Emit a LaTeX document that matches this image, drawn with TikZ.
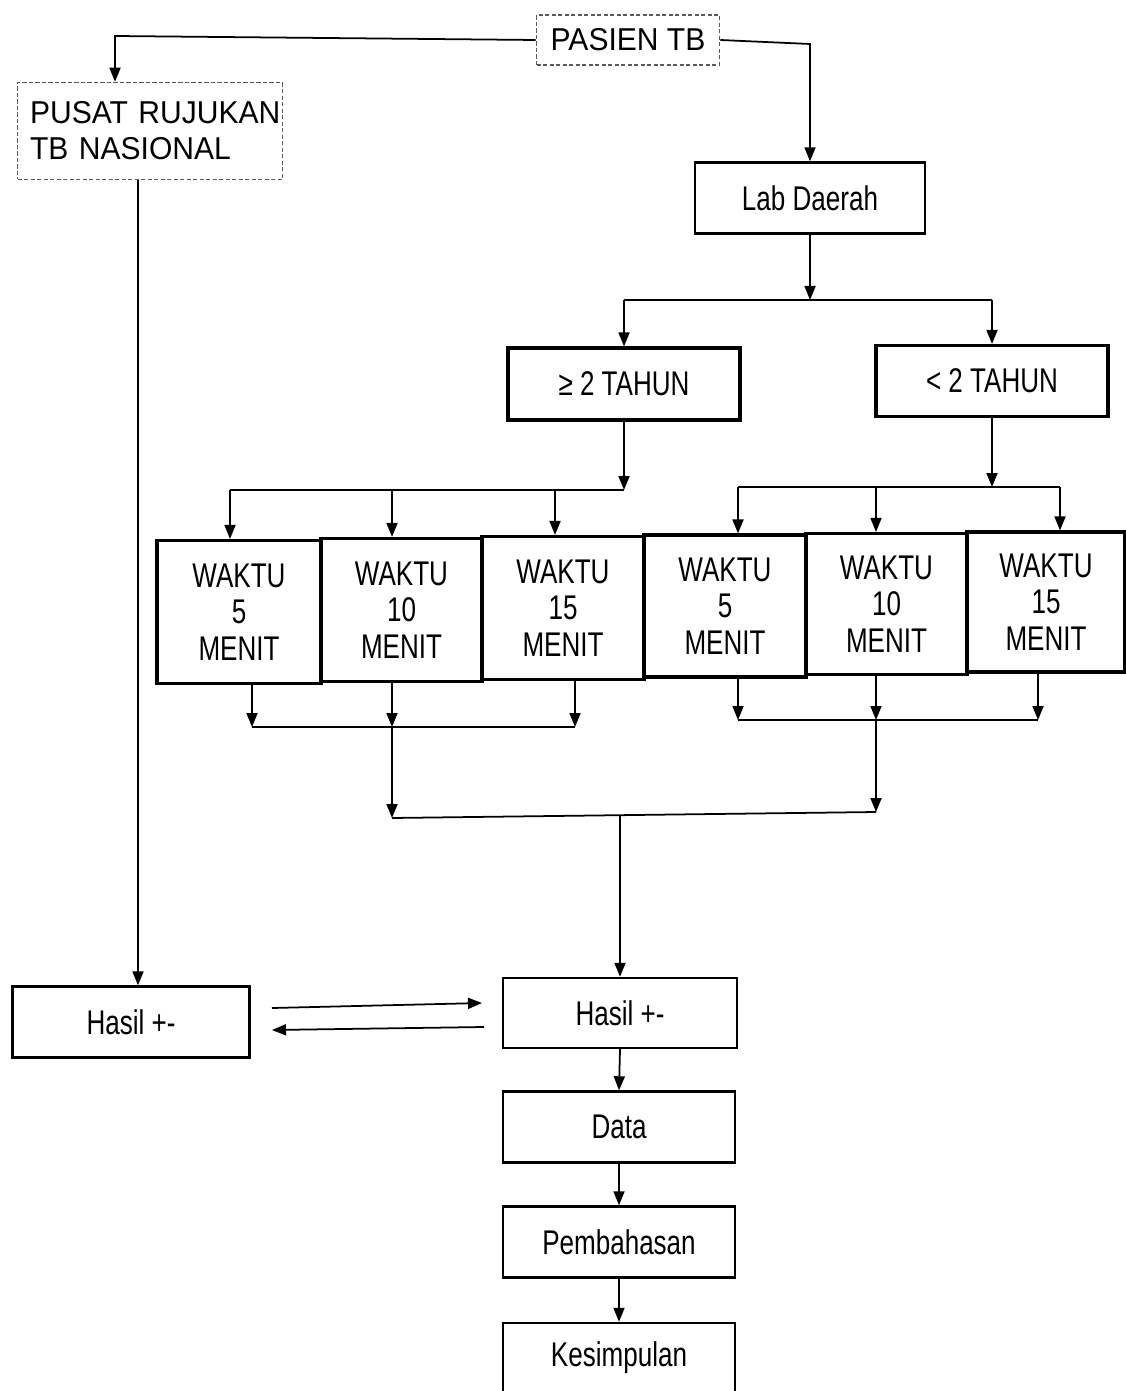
\documentclass[tikz,border=0pt]{standalone}
\usepackage{fontspec}
\setmainfont[FakeStretch=0.76]{Liberation Sans}
\newfontfamily\widefont[FakeStretch=0.95]{Liberation Sans}
\usetikzlibrary{arrows.meta}
\begin{document}
\begin{tikzpicture}[x=0.02cm,y=-0.02cm,
  box/.style={draw, line width=1.4pt, inner sep=0pt, align=center,
    font=\fontsize{19.5}{20.8}\selectfont},
  thick box/.style={box, line width=1.8pt},
  dashbox/.style={draw=gray!70!black, dash pattern=on 2.5pt off 1.2pt, line width=0.9pt,
    inner sep=0pt, text=black, font=\widefont\fontsize{18}{20.5}\selectfont},
  arr/.style={-{Triangle[length=0.28cm,width=0.22cm]}, line width=1pt},
  ln/.style={line width=1pt}
]
\useasboundingbox (0,0) rectangle (1125,1391);

% top nodes
\node[dashbox, minimum width=3.66cm, minimum height=1cm] (pasien) at (628,40) {PASIEN TB};
\node[dashbox, minimum width=5.3cm, minimum height=1.94cm, text width=4.8cm, align=left] (pusat) at (150,131) {\mbox{PUSAT RUJUKAN}\\\mbox{TB NASIONAL}};
\node[box, minimum width=4.6cm, minimum height=1.42cm] (lab) at (810,198) {Lab Daerah};

% age groups
\node[thick box, minimum width=4.64cm, minimum height=1.44cm] (ge) at (624,384) {≥ 2 TAHUN};
\node[thick box, minimum width=4.64cm, minimum height=1.42cm] (lt) at (992,381) {< 2 TAHUN};

% time boxes
\node[thick box, minimum width=3.28cm, minimum height=2.86cm] (w1) at (239,612) {WAKTU\\5\\MENIT};
\node[thick box, minimum width=3.22cm, minimum height=2.86cm] (w2) at (401.5,610) {WAKTU\\10\\MENIT};
\node[thick box, minimum width=3.24cm, minimum height=2.86cm] (w3) at (563,608) {WAKTU\\15\\MENIT};
\node[thick box, minimum width=3.24cm, minimum height=2.84cm] (w4) at (725,606) {WAKTU\\5\\MENIT};
\node[thick box, minimum width=3.22cm, minimum height=2.82cm] (w5) at (886.5,604) {WAKTU\\10\\MENIT};
\node[thick box, minimum width=3.16cm, minimum height=2.80cm] (w6) at (1046,602) {WAKTU\\15\\MENIT};

% results
\node[box, minimum width=4.74cm, minimum height=1.42cm] (hasilL) at (131,1022) {Hasil +-};
\node[box, minimum width=4.68cm, minimum height=1.40cm] (hasilR) at (620,1013) {Hasil +-};
\node[box, minimum width=4.64cm, minimum height=1.42cm] (data) at (619,1127) {Data};
\node[box, minimum width=4.64cm, minimum height=1.42cm] (bahas) at (619,1242) {Pembahasan};
\node[box, minimum width=4.64cm, minimum height=1.40cm] (simpul) at (619,1358) {Kesimpulan};

% junction coordinates
\coordinate (c1) at (115,36);
\coordinate (c2) at (810,44);
\coordinate (j1) at (810,300);
\coordinate (j1a) at (624,300);
\coordinate (j1b) at (992,300);
\coordinate (j2) at (624,490);
\coordinate (a1) at (230,490);
\coordinate (a2) at (392,490);
\coordinate (a3) at (555,490);
\coordinate (j3) at (992,487);
\coordinate (b1) at (738,487);
\coordinate (b2) at (876,487);
\coordinate (b3) at (1060,487);
\coordinate (d1) at (252,727);
\coordinate (d2) at (392,727);
\coordinate (d3) at (575,727);
\coordinate (e1) at (738,720);
\coordinate (e2) at (876,720);
\coordinate (e3) at (1038,720);
\coordinate (f1) at (392,818);
\coordinate (f2) at (876,812);
\coordinate (f3) at (620,815);
\coordinate (p1) at (138,180);
\coordinate (h1) at (272,1008);
\coordinate (h2) at (482,1003);
\coordinate (h3) at (484,1027);
\coordinate (h4) at (272,1030);

% connectors
\draw[arr] (pasien.west) -- (c1) -- (c1 |- pusat.north);
\draw[arr] (pasien.east) -- (c2) -- (c2 |- lab.north);
\draw[arr] (lab.south) -- (j1);
\draw[ln] (j1a) -- (j1b);
\draw[arr] (j1a) -- (ge.north);
\draw[arr] (j1b) -- (lt.north);

\draw[arr] (ge.south) -- (j2);
\draw[ln] (a1) -- (j2);
\draw[arr] (a1) -- (a1 |- w1.north);
\draw[arr] (a2) -- (a2 |- w2.north);
\draw[arr] (a3) -- (a3 |- w3.north);

\draw[arr] (lt.south) -- (j3);
\draw[ln] (b1) -- (b3);
\draw[arr] (b1) -- (b1 |- w4.north);
\draw[arr] (b2) -- (b2 |- w5.north);
\draw[arr] (b3) -- (b3 |- w6.north);

\draw[arr] (d1 |- w1.south) -- (d1);
\draw[arr] (d2 |- w2.south) -- (d2);
\draw[arr] (d3 |- w3.south) -- (d3);
\draw[ln] (d1) -- (d3);
\draw[arr] (d2) -- (f1);

\draw[arr] (e1 |- w4.south) -- (e1);
\draw[arr] (e2 |- w5.south) -- (e2);
\draw[arr] (e3 |- w6.south) -- (e3);
\draw[ln] (e1) -- (e3);
\draw[arr] (e2) -- (f2);

\draw[ln] (f1) -- (f2);
\draw[arr] (f3) -- (hasilR.north);

\draw[arr] (p1) -- (p1 |- hasilL.north);
\draw[arr] (h1) -- (h2);
\draw[arr] (h3) -- (h4);

\draw[arr] (hasilR.south) -- (data.north);
\draw[arr] (data.south) -- (bahas.north);
\draw[arr] (bahas.south) -- (simpul.north);
\end{tikzpicture}
\end{document}
